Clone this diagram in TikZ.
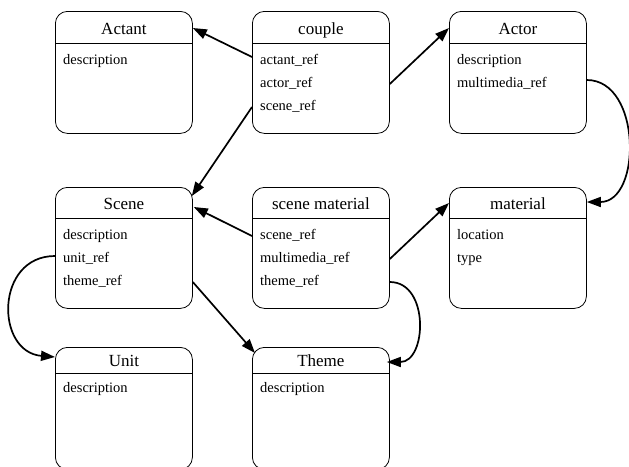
\documentclass[tikz,border=0pt]{standalone}
\usepackage{fontspec}
\setmainfont{Liberation Serif}
\usetikzlibrary{arrows.meta,calc}
\begin{document}
\begin{tikzpicture}[x=1pt,y=-1pt,
  tbl/.style={draw,rounded corners=12pt,line width=0.8pt,minimum width=137pt,anchor=north west,inner sep=0pt},
  hdr/.style={line width=0.8pt},
  ttl/.style={font=\fontsize{17}{20}\selectfont,anchor=center,inner sep=0pt,text height=12pt,text depth=4pt},
  fld/.style={font=\fontsize{14.5}{17}\selectfont,anchor=west,inner sep=0pt,text height=10pt,text depth=3pt},
  rel/.style={line width=1.7pt,-{Triangle[length=14pt,width=10pt]}}]
\useasboundingbox (0,0) rectangle (629,466);
\clip (0,0) rectangle (629,466);
\fill[white] (0,0) rectangle (629,466);

% ---- row 1
\node[tbl,minimum height=122pt] (Actant) at (55,11) {};
\node[tbl,minimum height=122pt] (couple) at (252,11) {};
\node[tbl,minimum height=122pt] (Actor) at (449,11) {};
\foreach \b in {Actant,couple,Actor}
  \draw[hdr] ([yshift=-32pt]\b.north west) -- ([yshift=-32pt]\b.north east);
\node[ttl] (Actant-t) at ($(Actant.north)+(0,19)$) {Actant};
\node[ttl] (couple-t) at ($(couple.north)+(0,19)$) {couple};
\node[ttl] (Actor-t) at ($(Actor.north)+(0,19)$) {Actor};
\node[fld] (Actant-d) at (63,61) {description};
\node[fld] (couple-a) at (260,61) {actant\_ref};
\node[fld] (couple-b) at (260,84) {actor\_ref};
\node[fld] (couple-s) at (260,107) {scene\_ref};
\node[fld] (Actor-d) at (457,61) {description};
\node[fld] (Actor-m) at (457,84) {multimedia\_ref};

% ---- row 2
\node[tbl,minimum height=121pt] (Scene) at (55,187) {};
\node[tbl,minimum height=121pt] (scenemat) at (252,187) {};
\node[tbl,minimum height=121pt] (material) at (449,187) {};
\foreach \b in {Scene,scenemat,material}
  \draw[hdr] ([yshift=-31pt]\b.north west) -- ([yshift=-31pt]\b.north east);
\node[ttl] (Scene-t) at ($(Scene.north)+(0,18)$) {Scene};
\node[ttl] (scenemat-t) at ($(scenemat.north)+(0,18)$) {scene material};
\node[ttl] (material-t) at ($(material.north)+(0,18)$) {material};
\node[fld] (Scene-d) at (63,236) {description};
\node[fld] (Scene-u) at (63,259) {unit\_ref};
\node[fld] (Scene-th) at (63,282) {theme\_ref};
\node[fld] (scenemat-s) at (260,236) {scene\_ref};
\node[fld] (scenemat-m) at (260,259) {multimedia\_ref};
\node[fld] (scenemat-th) at (260,282) {theme\_ref};
\node[fld] (material-l) at (457,236) {location};
\node[fld] (material-ty) at (457,259) {type};

% ---- row 3
\node[tbl,minimum height=122pt] (Unit) at (55,347) {};
\node[tbl,minimum height=122pt] (Theme) at (252,347) {};
\foreach \b in {Unit,Theme}
  \draw[hdr] ([yshift=-26pt]\b.north west) -- ([yshift=-26pt]\b.north east);
\node[ttl] (Unit-t) at ($(Unit.north)+(0,15)$) {Unit};
\node[ttl] (Theme-t) at ($(Theme.north)+(0,15)$) {Theme};
\node[fld] (Unit-d) at (63,389) {description};
\node[fld] (Theme-d) at (260,389) {description};

% ---- arrow targets
\coordinate (tActant) at ($(Actant.north east)+(0,17)$);
\coordinate (tActor) at ($(Actor.north west)+(0,17)$);
\coordinate (tScene1) at ($(Scene.north east)+(-1,9)$);
\coordinate (tScene2) at ($(Scene.north east)+(1,20)$);
\coordinate (tMat1) at ($(material.north west)+(0,16)$);
\coordinate (tMat2) at ($(material.north east)+(0,15)$);
\coordinate (tTheme1) at ($(Theme.north west)+(3,6)$);
\coordinate (tTheme2) at ($(Theme.north east)+(-3,15)$);
\coordinate (tUnit) at ($(Unit.north west)+(0,10)$);

% ---- connectors
\draw[rel] ($(couple.west |- couple-a)+(0,-4)$) -- (tActant);
\draw[rel] (couple.east |- couple-b) -- (tActor);
\draw[rel] (couple.west |- couple-s) -- (tScene1);
\draw[rel] ($(Actor.east |- Actor-m)+(0,-4)$) .. controls +(55,0) and +(55,0) .. (tMat2);
\draw[rel] (scenemat.west |- scenemat-s) -- (tScene2);
\draw[rel] (scenemat.east |- scenemat-m) -- (tMat1);
\draw[rel] (scenemat.east |- scenemat-th) .. controls +(40,0) and +(40,0) .. (tTheme2);
\draw[rel] (Scene.east |- Scene-th) -- (tTheme1);
\draw[rel] ($(Scene.west |- Scene-u)+(0,-3)$) .. controls +(-60,0) and +(-60,-5) .. (tUnit);
\end{tikzpicture}
\end{document}
